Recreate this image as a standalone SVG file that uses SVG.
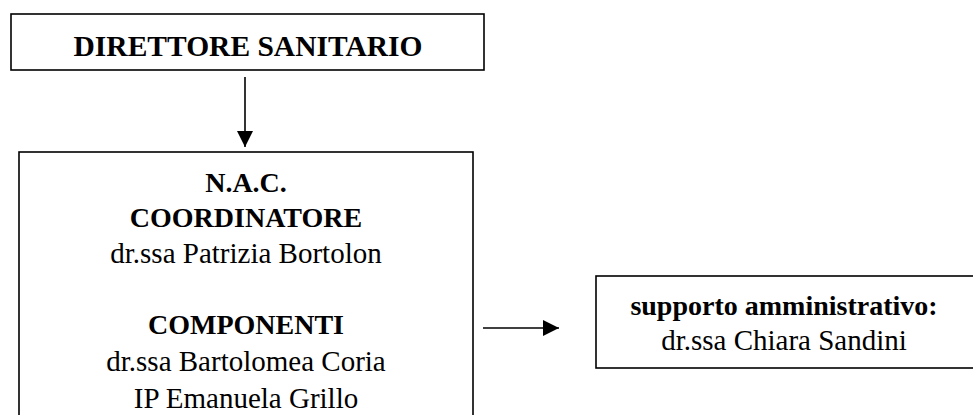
<svg xmlns="http://www.w3.org/2000/svg" width="973" height="415" viewBox="0 0 973 415">
<style>
.box{fill:#fff;stroke:#000;stroke-width:1.6}
.t{font-family:"Liberation Serif","Times New Roman",serif;fill:#000;text-anchor:middle}
.b{font-weight:bold;font-size:28px}
.r{font-size:29px}
.conn{stroke:#000;stroke-width:1.6;fill:none}
</style>
<defs>
<marker id="ah" viewBox="0 0 10 10" refX="10" refY="5" markerWidth="10" markerHeight="10" markerUnits="userSpaceOnUse" orient="auto">
<path d="M0,0 L10,5 L0,10 Z" fill="#000"/>
</marker>
<marker id="ah2" viewBox="0 0 16 16" refX="16" refY="8" markerWidth="16" markerHeight="16" markerUnits="userSpaceOnUse" orient="auto">
<path d="M0,0 L16,8 L0,16 Z" fill="#000"/>
</marker>
</defs>
<rect width="973" height="415" fill="#fff"/>
<g id="direttore">
<rect class="box" x="11" y="14" width="473" height="56"/>
<text class="t" x="248" y="56" style="font-weight:bold;font-size:29.5px">DIRETTORE SANITARIO</text>
</g>
<g id="nac">
<rect class="box" x="19" y="152" width="454" height="280"/>
<text class="t b" x="246" y="192">N.A.C.</text>
<text class="t b" x="246" y="227">COORDINATORE</text>
<text class="t r" x="246" y="263">dr.ssa Patrizia Bortolon</text>
<text class="t b" x="246" y="334">COMPONENTI</text>
<text class="t r" x="246" y="371">dr.ssa Bartolomea Coria</text>
<text class="t r" x="246" y="408">IP Emanuela Grillo</text>
</g>
<g id="supporto">
<rect class="box" x="596" y="276" width="380" height="92"/>
<text class="t b" x="784" y="315">supporto amministrativo:</text>
<text class="t r" x="784" y="350">dr.ssa Chiara Sandini</text>
</g>
<g id="connectors">
<line class="conn" x1="245" y1="77" x2="245" y2="147" marker-end="url(#ah2)"/>
<line class="conn" x1="483" y1="328" x2="559" y2="328" marker-end="url(#ah2)"/>
</g>
</svg>
